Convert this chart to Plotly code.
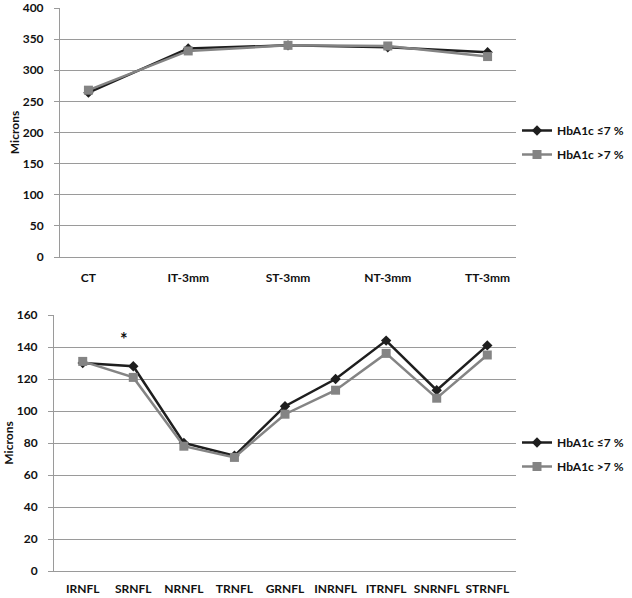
import plotly.graph_objects as go

top_categories = ["CT", "IT-3mm", "ST-3mm", "NT-3mm", "TT-3mm"]
top_low = [264, 335, 340, 337, 329]
top_high = [268, 331, 340, 339, 322]

bot_categories = ["IRNFL", "SRNFL", "NRNFL", "TRNFL", "GRNFL", "INRNFL", "ITRNFL", "SNRNFL", "STRNFL"]
bot_low = [130, 128, 80, 72, 103, 120, 144, 113, 141]
bot_high = [131, 121, 78, 71, 98, 113, 136, 108, 135]

top_ticks = [0, 50, 100, 150, 200, 250, 300, 350, 400]
bot_ticks = [0, 20, 40, 60, 80, 100, 120, 140, 160]

name_low = "<b>HbA1c ≤7 %</b>"
name_high = "<b>HbA1c >7 %</b>"

W, H = 632, 598
FONT = "Lato, 'Open Sans', sans-serif"
C_LOW = "#1e1e1e"
C_HIGH = "#848484"
GRID = "#9a9a9a"

fig = go.Figure()

def add_pair(cats, low, high, xa, ya, legend):
    fig.add_trace(go.Scatter(x=cats, y=low, name=name_low, mode="lines+markers",
                             line=dict(color=C_LOW, width=2.5),
                             marker=dict(symbol="diamond", size=8, color=C_LOW),
                             xaxis=xa, yaxis=ya, legend=legend, legendgroup=legend + "a"))
    fig.add_trace(go.Scatter(x=cats, y=high, name=name_high, mode="lines+markers",
                             line=dict(color=C_HIGH, width=2.5),
                             marker=dict(symbol="square", size=9, color=C_HIGH),
                             xaxis=xa, yaxis=ya, legend=legend, legendgroup=legend + "b"))

add_pair(top_categories, top_low, top_high, "x", "y", "legend")
add_pair(bot_categories, bot_low, bot_high, "x2", "y2", "legend2")

def px_x(p):
    return p / W

def px_y(p):
    return 1 - p / H

axis_font = dict(family=FONT, size=12, color="#111111")

common_x = dict(type="category", showgrid=False, showline=True, linecolor=GRID, linewidth=1,
                ticks="", tickfont=axis_font, fixedrange=True, automargin=False,
                ticklabeloverflow="allow")
common_y = dict(showgrid=True, gridcolor=GRID, gridwidth=1, showline=True, linecolor=GRID,
                linewidth=1, ticks="outside", ticklen=5, tickcolor=GRID,
                tickfont=axis_font, ticklabelstandoff=8, zeroline=False, automargin=False,
                ticklabeloverflow="allow", fixedrange=True,
                title=dict(text="<b>Microns</b>", font=dict(family=FONT, size=12, color="#111111"),
                           standoff=0))

legend_font = dict(family=FONT, size=12, color="#111111")

fig.update_layout(
    width=W, height=H,
    margin=dict(l=0, r=0, t=0, b=0, autoexpand=False),
    paper_bgcolor="white", plot_bgcolor="white",
    font=dict(family=FONT, size=12, color="#111111"),
    xaxis=dict(domain=[px_x(60), px_x(516)], anchor="y", ticklabelstandoff=10,
               tickvals=top_categories, ticktext=["<b>%s</b>" % c for c in top_categories], **common_x),
    yaxis=dict(domain=[px_y(257), px_y(8)], anchor="x", range=[0, 400],
               tickvals=top_ticks, ticktext=["<b>%d</b>" % v for v in top_ticks], **common_y),
    xaxis2=dict(domain=[px_x(54), px_x(516)], anchor="y2", ticklabelstandoff=7,
                tickvals=bot_categories, ticktext=["<b>%s</b>" % c for c in bot_categories], **common_x),
    yaxis2=dict(domain=[px_y(571), px_y(315)], anchor="x2", range=[0, 160],
                tickvals=bot_ticks, ticktext=["<b>%d</b>" % v for v in bot_ticks], **common_y),
    legend=dict(x=px_x(517), y=px_y(116), xanchor="left", yanchor="top",
                font=legend_font, tracegroupgap=5, itemwidth=30, bgcolor="rgba(0,0,0,0)"),
    legend2=dict(x=px_x(517), y=px_y(428), xanchor="left", yanchor="top",
                 font=legend_font, tracegroupgap=5, itemwidth=30, bgcolor="rgba(0,0,0,0)"),
    showlegend=True,
)

fig.add_annotation(x="SRNFL", y=145, xref="x2", yref="y2", text="<b>*</b>", showarrow=False,
                   xshift=-9, font=dict(family=FONT, size=18, color="#111111"))

fig.write_html("out.html", config={"displayModeBar": False},
               post_script="document.body.style.margin='0';document.body.style.padding='0';")
